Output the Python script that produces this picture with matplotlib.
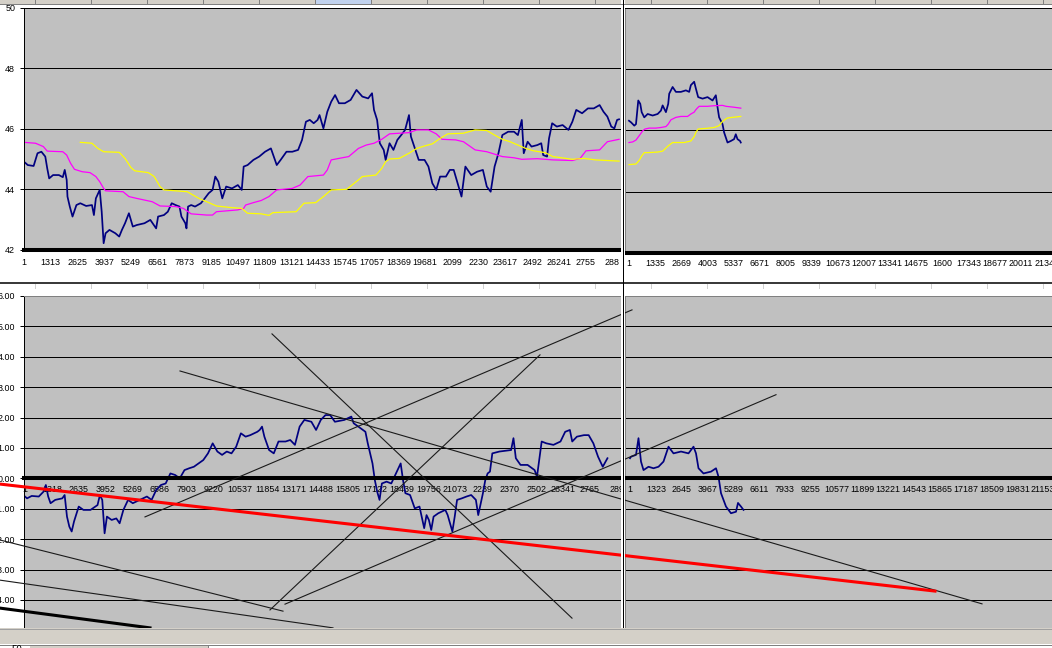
import matplotlib
matplotlib.use('Agg')
import matplotlib.pyplot as plt
from matplotlib.patches import Rectangle
from matplotlib.lines import Line2D

W, H = 1052, 648
GRAY = '#c0c0c0'

# top chart, left pane: price + two moving averages
tl_blue_x = [1, 187, 473, 664, 854, 1045, 1141, 1236, 1427, 1713,
             1904, 1999, 2095, 2133, 2247, 2381, 2572, 2762, 3049, 3335,
             3430, 3526, 3716, 3812, 3907, 4003, 4193, 4480, 4671, 4804,
             4957, 5147, 5338, 5529, 5911, 6197, 6483, 6578, 6865, 7055,
             7246, 7437, 7628, 7723, 7914, 7971, 8048, 8200, 8391, 8677,
             8868, 9059, 9250, 9383, 9536, 9727, 9917, 10204, 10490, 10681,
             10776, 10967, 11253, 11539, 11825, 12112, 12398, 12589, 12875, 13161,
             13447, 13638, 13829, 14020, 14211, 14401, 14497, 14687, 14878, 15069,
             15260, 15451, 15737, 16023, 16309, 16596, 16882, 17072, 17168, 17321,
             17454, 17645, 17740, 17931, 18122, 18313, 18503, 18694, 18885, 18980,
             19171, 19362, 19648, 19839, 20030, 20220, 20411, 20697, 20888, 21079,
             21270, 21461, 21651, 21938, 22224, 22510, 22701, 22892, 23083, 23273,
             23464, 23750, 24037, 24227, 24418, 24514, 24704, 24895, 25181, 25372,
             25468, 25658, 25754, 25906, 26135, 26421, 26707, 26898, 27089, 27375,
             27661, 27948, 28234, 28425, 28615, 28806, 28959, 29092, 29188]
tl_blue_y = [44.91, 44.80, 44.77, 45.19, 45.24, 45.08, 44.69, 44.36, 44.47, 44.47,
             44.40, 44.64, 44.31, 43.76, 43.43, 43.10, 43.48, 43.54, 43.45, 43.48,
             43.15, 43.70, 43.98, 43.26, 42.22, 42.55, 42.66, 42.55, 42.44, 42.66,
             42.88, 43.21, 42.77, 42.82, 42.88, 42.99, 42.71, 43.10, 43.15, 43.26,
             43.54, 43.48, 43.43, 43.10, 42.88, 42.71, 43.43, 43.48, 43.43, 43.54,
             43.70, 43.87, 43.98, 44.42, 44.25, 43.70, 44.09, 44.03, 44.14, 43.98,
             44.75, 44.80, 44.97, 45.08, 45.24, 45.35, 44.80, 44.97, 45.24, 45.24,
             45.30, 45.63, 46.23, 46.29, 46.18, 46.29, 46.45, 46.01, 46.56, 46.89,
             47.11, 46.84, 46.84, 46.95, 47.28, 47.06, 47.00, 47.17, 46.62, 46.29,
             45.52, 45.30, 44.97, 45.52, 45.30, 45.63, 45.79, 45.96, 46.45, 45.74,
             45.35, 44.97, 44.97, 44.75, 44.20, 43.98, 44.42, 44.42, 44.64, 44.64,
             44.20, 43.76, 44.75, 44.47, 44.58, 44.64, 44.09, 43.92, 44.75, 45.19,
             45.79, 45.90, 45.90, 45.79, 46.29, 45.19, 45.57, 45.41, 45.46, 45.52,
             45.13, 45.08, 45.68, 46.18, 46.07, 46.12, 45.96, 46.23, 46.62, 46.51,
             46.67, 46.67, 46.78, 46.56, 46.40, 46.07, 46.01, 46.29, 46.31]

tl_pink_x = [1, 568, 950, 1141, 1904, 2095, 2285, 2476, 2858, 3239,
             3526, 3716, 3907, 4003, 4861, 5147, 5529, 6292, 6674, 7437,
             7819, 8200, 8963, 9250, 9440, 10490, 10776, 10871, 11253, 11635,
             12016, 12398, 13161, 13543, 13924, 14687, 14878, 15069, 15451, 15928,
             16405, 16786, 17168, 17549, 17931, 18408, 18885, 19266, 19839, 20220,
             20507, 21175, 21556, 22129, 22701, 23464, 24037, 24418, 25181, 25944,
             26898, 27280, 27566, 28234, 28615, 29188]
tl_pink_y = [45.55, 45.52, 45.41, 45.26, 45.24, 45.13, 44.86, 44.66, 44.58, 44.55,
             44.42, 44.25, 44.03, 43.95, 43.92, 43.76, 43.70, 43.59, 43.45, 43.43,
             43.37, 43.19, 43.15, 43.15, 43.26, 43.32, 43.37, 43.48, 43.56, 43.63,
             43.76, 43.98, 44.03, 44.14, 44.42, 44.47, 44.64, 44.97, 45.02, 45.08,
             45.35, 45.46, 45.52, 45.65, 45.83, 45.85, 45.87, 45.96, 45.96, 45.83,
             45.65, 45.63, 45.57, 45.30, 45.24, 45.08, 45.04, 44.99, 45.01, 44.97,
             44.95, 45.02, 45.27, 45.30, 45.57, 45.65]

tl_yell_x = [2762, 3335, 3621, 3907, 4671, 4957, 5243, 5434, 6101, 6388,
             6674, 6865, 8009, 8582, 8963, 9440, 10108, 10681, 10967, 11635,
             12016, 12207, 13352, 13733, 14306, 14687, 15069, 15832, 16405, 16596,
             17263, 17549, 17740, 17931, 18408, 18885, 19266, 19648, 20030, 20411,
             20793, 21556, 22129, 22701, 23083, 23464, 23845, 24227, 24609, 24990,
             25563, 25944, 26898, 27471, 28043, 29188]
tl_yell_y = [45.55, 45.52, 45.35, 45.24, 45.22, 45.02, 44.72, 44.61, 44.55, 44.42,
             44.09, 43.98, 43.92, 43.70, 43.59, 43.45, 43.40, 43.37, 43.21, 43.19,
             43.14, 43.23, 43.26, 43.54, 43.56, 43.76, 43.98, 44.00, 44.31, 44.42,
             44.47, 44.69, 44.91, 45.00, 45.02, 45.19, 45.35, 45.43, 45.50, 45.68,
             45.83, 45.85, 45.96, 45.94, 45.79, 45.65, 45.57, 45.46, 45.35, 45.27,
             45.21, 45.08, 44.99, 45.02, 44.97, 44.93]

# top chart, right pane
tr_blue_x = [1, 103, 271, 358, 475, 577, 649, 781, 955, 1210,
             1465, 1633, 1720, 1888, 2005, 2056, 2230, 2398, 2653, 2908,
             3076, 3163, 3331, 3418, 3535, 3760, 4015, 4270, 4438, 4525,
             4606, 4780, 4861, 5035, 5203, 5371, 5458, 5545, 5677, 5713]
tr_blue_y = [46.31, 46.26, 46.15, 46.20, 46.97, 46.86, 46.59, 46.42, 46.53, 46.48,
             46.53, 46.64, 46.81, 46.59, 46.86, 47.19, 47.41, 47.25, 47.25, 47.30,
             47.25, 47.47, 47.58, 47.36, 47.08, 47.03, 47.08, 46.97, 47.14, 46.75,
             46.42, 46.20, 45.93, 45.60, 45.65, 45.71, 45.87, 45.71, 45.65, 45.60]
tr_pink_x = [1, 190, 358, 577, 700, 817, 1036, 1378, 1633, 1888,
             2005, 2143, 2398, 2653, 2994, 3163, 3331, 3418, 3504, 3586,
             4015, 4352, 4780, 4958, 5371, 5713]
tr_pink_y = [45.60, 45.62, 45.68, 45.87, 45.98, 46.04, 46.07, 46.07, 46.09, 46.12,
             46.20, 46.34, 46.42, 46.45, 46.45, 46.53, 46.59, 46.67, 46.73, 46.78,
             46.78, 46.80, 46.81, 46.78, 46.75, 46.72]
tr_yell_x = [1, 358, 526, 649, 781, 955, 1465, 1720, 2005, 2230,
             2821, 3163, 3331, 3418, 3535, 3928, 4352, 4606, 4780, 4958,
             5035, 5290, 5713]
tr_yell_y = [44.88, 44.90, 45.02, 45.16, 45.27, 45.27, 45.29, 45.32, 45.49, 45.60,
             45.60, 45.65, 45.79, 45.93, 46.04, 46.06, 46.09, 46.15, 46.29, 46.37,
             46.40, 46.42, 46.45]

# bottom chart, left pane
bl_blue_x = [1, 101, 331, 676, 907, 1022, 1137, 1252, 1482, 1827,
             1942, 2057, 2172, 2287, 2402, 2632, 2862, 3208, 3553, 3668,
             3783, 3898, 4013, 4243, 4473, 4634, 4818, 5048, 5278, 5624,
             5969, 6199, 6429, 6659, 6889, 7119, 7349, 7579, 7810, 8040,
             8270, 8500, 8730, 8960, 9190, 9420, 9650, 9880, 10111, 10341,
             10571, 10801, 11031, 11376, 11491, 11606, 11721, 11951, 12181, 12412,
             12757, 12987, 13217, 13447, 13677, 14022, 14252, 14482, 14713, 14943,
             15173, 15633, 15978, 16093, 16323, 16668, 16783, 16898, 17014, 17129,
             17244, 17359, 17474, 17704, 17934, 18164, 18394, 18509, 18624, 18854,
             19084, 19315, 19545, 19660, 19775, 19890, 20005, 20235, 20580, 20695,
             20925, 21040, 21155, 21385, 21616, 21846, 22076, 22191, 22421, 22536,
             22651, 22766, 22881, 23226, 23801, 23916, 24032, 24262, 24607, 24952,
             25067, 25297, 25527, 25872, 26218, 26448, 26678, 26793, 27023, 27368,
             27598, 27828, 28058, 28288, 28518]
bl_blue_y = [-0.60, -0.66, -0.58, -0.60, -0.44, -0.22, -0.60, -0.82, -0.71, -0.66,
             -0.55, -1.26, -1.59, -1.75, -1.42, -0.93, -1.04, -1.04, -0.88, -0.55,
             -0.71, -1.81, -1.26, -1.37, -1.32, -1.48, -1.04, -0.71, -0.82, -0.71,
             -0.60, -0.71, -0.38, -0.22, -0.17, 0.16, 0.11, 0.00, 0.27, 0.33,
             0.38, 0.49, 0.60, 0.82, 1.15, 0.88, 0.77, 0.88, 0.82, 1.04,
             1.48, 1.37, 1.42, 1.53, 1.59, 1.70, 1.37, 0.93, 0.82, 1.21,
             1.21, 1.26, 1.10, 1.70, 1.92, 1.86, 1.59, 1.92, 2.08, 2.08,
             1.86, 1.92, 2.03, 1.81, 1.70, 1.53, 1.15, 0.82, 0.49, -0.06,
             -0.44, -0.71, -0.17, -0.11, -0.17, 0.16, 0.49, -0.06, -0.49, -0.55,
             -0.99, -0.93, -1.64, -1.21, -1.37, -1.70, -1.26, -1.15, -1.04, -1.21,
             -1.75, -1.26, -0.71, -0.66, -0.60, -0.55, -0.71, -1.21, -0.49, -0.06,
             0.16, 0.22, 0.82, 0.88, 0.93, 1.32, 0.66, 0.44, 0.44, 0.27,
             0.05, 1.21, 1.15, 1.10, 1.21, 1.53, 1.59, 1.21, 1.37, 1.42,
             1.42, 1.15, 0.71, 0.38, 0.66]

# bottom chart, right pane
br_blue_x = [1, 52, 308, 436, 564, 692, 948, 1204, 1460, 1716,
             1972, 2228, 2612, 2996, 3252, 3380, 3508, 3764, 4148, 4404,
             4532, 4660, 4916, 5172, 5428, 5530, 5684, 5812]
br_blue_y = [0.66, 0.71, 0.77, 1.32, 0.55, 0.27, 0.38, 0.33, 0.38, 0.55,
             1.04, 0.82, 0.88, 0.82, 1.04, 0.82, 0.33, 0.16, 0.22, 0.33,
             0.05, -0.49, -0.93, -1.15, -1.10, -0.81, -0.93, -1.04]

# hand drawn trend lines on the bottom chart (left pane coordinates)
trend_x0 = [5876, 7590, 12094, 11996, 12731, -1223, -1223]
trend_y0 = [-1.27, 3.53, 4.75, -4.33, -4.14, -2.03, -3.35]
trend_x1 = [29720, 46856, 26782, 25215, 36770, 12633, 15081]
trend_y1 = [5.54, -4.13, -4.60, 4.06, 2.75, -4.37, -4.92]
red_x = [-1223, 44554]
red_y = [-0.19, -3.71]
thick_x = [-1223, 6121]
thick_y = [-4.27, -4.92]

tl_xlabels = ['1', '1313', '2625', '3937', '5249', '6561', '7873', '9185', '10497', '11809',
              '13121', '14433', '15745', '17057', '18369', '19681', '2099', '2230', '23617',
              '2492', '26241', '2755', '288']
tr_xlabels = ['1', '1335', '2669', '4003', '5337', '6671', '8005', '9339', '10673', '12007',
              '13341', '14675', '1600', '17343', '18677', '20011', '21345']
bl_xlabels = ['1', '1318', '2635', '3952', '5269', '6586', '7903', '9220', '10537', '11854',
              '13171', '14488', '15805', '17122', '18439', '19756', '21073', '2239', '2370',
              '2502', '26341', '2765', '289']
br_xlabels = ['1', '1323', '2645', '3967', '5289', '6611', '7933', '9255', '10577', '11899',
              '13221', '14543', '15865', '17187', '18509', '19831', '21153']

plt.rcParams['font.family'] = ['Liberation Sans', 'DejaVu Sans']
plt.rcParams['font.size'] = 6.4

fig = plt.figure(figsize=(W / 100, H / 100), dpi=100, facecolor='white')


def box(x0, y0, x1, y1):
    return [x0 / W, 1 - y1 / H, (x1 - x0) / W, (y1 - y0) / H]


def fig_rect(x0, y0, x1, y1, color, z=10):
    fig.add_artist(Rectangle((x0 / W, 1 - y1 / H), (x1 - x0) / W, (y1 - y0) / H,
                             transform=fig.transFigure, facecolor=color,
                             edgecolor='none', zorder=z))


def fig_line(xs, ys, color, lw=0.72, z=11):
    fig.add_artist(Line2D([x / W for x in xs], [1 - y / H for y in ys],
                          transform=fig.transFigure, color=color, linewidth=lw, zorder=z))


def pane(rect, xlim, ylim, yticks, step, labels, left, top_color, zero, xpad):
    ax = fig.add_axes(box(*rect))
    ax.set_facecolor(GRAY)
    ax.set_xlim(xlim)
    ax.set_ylim(ylim)
    for s in ax.spines.values():
        s.set_visible(False)
    ax.spines['bottom'].set_visible(True)
    ax.spines['bottom'].set_position(('data', zero))
    ax.spines['bottom'].set_linewidth(2.9)
    ax.spines['top'].set_visible(True)
    ax.spines['top'].set_color(top_color)
    ax.spines['top'].set_linewidth(0.72)
    ax.set_yticks(yticks)
    ax.yaxis.grid(True, color='black', linewidth=0.72)
    if top_color != 'black':
        ax.get_ygridlines()[-1].set_visible(False)
    ax.set_xticks([1 + step * k for k in range(len(labels))], labels)
    ax.tick_params(axis='x', length=0, pad=xpad)
    if left:
        ax.spines['left'].set_visible(True)
        ax.spines['left'].set_linewidth(0.72)
        ax.spines['right'].set_visible(True)
        ax.spines['right'].set_color('#808080')
        ax.spines['right'].set_linewidth(0.72)
        ax.tick_params(axis='y', length=3, width=0.72, pad=3)
    else:
        ax.spines['left'].set_visible(True)
        ax.spines['left'].set_color('#808080')
        ax.spines['left'].set_linewidth(0.72)
        ax.tick_params(axis='y', left=False, labelleft=False)
    return ax


# top chart
ax_tl = pane((23.5, 7.5, 621, 249.9), (-23.5, 29284), (42, 50), [42, 44, 46, 48, 50],
             1312, tl_xlabels, True, 'black', 42, 6)
ax_tl.plot(tl_blue_x, tl_blue_y, color='#000080', lw=1.25)
ax_tl.plot(tl_pink_x, tl_pink_y, color='#ff00ff', lw=0.9)
ax_tl.plot(tl_yell_x, tl_yell_y, color='#ffff00', lw=0.9)

ax_tr = pane((625, 7.5, 1052, 253), (-203, 21616), (42, 50), [42, 44, 46, 48, 50],
             1334, tr_xlabels, False, 'black', 42, 4)
ax_tr.plot(tr_blue_x, tr_blue_y, color='#000080', lw=1.25)
ax_tr.plot(tr_pink_x, tr_pink_y, color='#ff00ff', lw=0.9)
ax_tr.plot(tr_yell_x, tr_yell_y, color='#ffff00', lw=0.9)

# bottom chart
bot_ticks = [-5, -4, -3, -2, -1, 0, 1, 2, 3, 4, 5, 6]
ax_bl = pane((23.5, 295.9, 621, 645.5), (-72, 29181), (-5.5, 6), bot_ticks,
             1317, bl_xlabels, True, '#808080', 0, 5)
ax_bl.set_yticklabels(['%.2f' % v for v in bot_ticks])
ax_bl.plot(bl_blue_x, bl_blue_y, color='#000080', lw=1.25)

ax_br = pane((625, 295.9, 1052, 645.5), (-255, 21607), (-5.5, 6), bot_ticks,
             1322, br_xlabels, False, '#808080', 0, 5)
ax_br.plot(br_blue_x, br_blue_y, color='#000080', lw=1.25)

# trend lines are drawn over both panes
ov = fig.add_axes(box(23.5, 295.9, 621, 645.5), zorder=1)
ov.set_xlim(-72, 29181)
ov.set_ylim(-5.5, 6)
ov.axis('off')
for i in range(len(trend_x0)):
    ov.plot([trend_x0[i], trend_x1[i]], [trend_y0[i], trend_y1[i]],
            color='#1a1a1a', lw=0.8, clip_on=False)
ov.plot(red_x, red_y, color='#ff0000', lw=2.2, clip_on=False)
ov.plot(thick_x, thick_y, color='black', lw=2.2, clip_on=False)

# worksheet chrome: column header, pane splits, status bar
fig_rect(0, 0, W, 3.5, '#d4d0c8')
fig_rect(315, 0, 371, 3.5, '#c1d2ee', z=10.5)
fig_line([0, W], [3.5, 3.5], '#808080')
cols = [35 + 56 * k for k in range(11)] + [651 + 56 * k for k in range(8)]
for c in cols:
    fig_line([c, c], [0, 3.5], '#808080')
    fig_line([c, c], [284, 288], '#d0d0d0')
fig_line([0, W], [282.5, 282.5], 'black', lw=1.1)
fig_rect(621, 0, 625, 628, 'white')
fig_line([623, 623], [0, 628], 'black')
fig_rect(0, 628, W, 644, '#d4d0c8', z=12)
fig_line([0, W], [628.5, 628.5], '#a0a0a0', z=13)
fig_rect(0, 644, W, H, 'white', z=12)
fig_rect(30, 645, 208, H, '#d4d0c8', z=12)
fig_line([0, W], [644.5, 644.5], '#808080', z=13)
fig_line([208, 208], [645, H], '#808080', z=13)
fig.text(12 / W, 1 - 645 / H, '50', ha='left', va='top', fontsize=7, zorder=13)

fig.savefig('out.png', dpi=100, facecolor='white')
